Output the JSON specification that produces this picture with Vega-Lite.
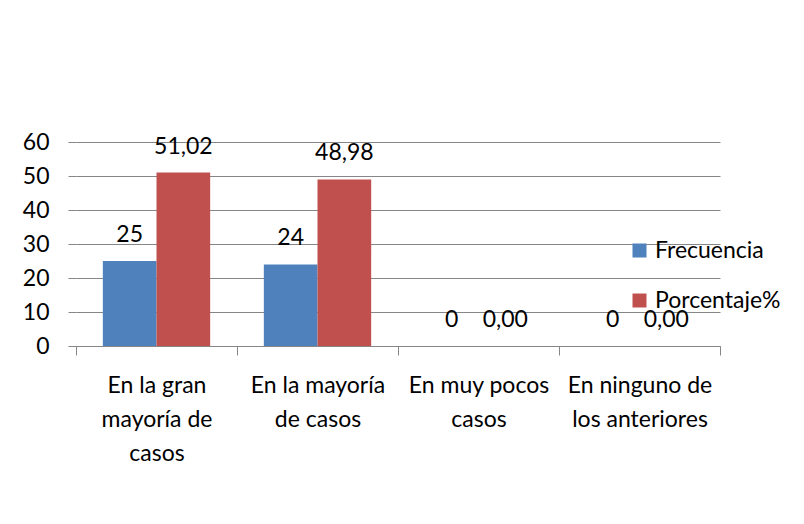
{
  "$schema": "https://vega.github.io/schema/vega-lite/v6.json",
  "width": 644,
  "height": 204,
  "autosize": "none",
  "padding": {"left": 76, "top": 142, "right": 84, "bottom": 178},
  "background": "white",
  "config": {
    "view": {"stroke": null},
    "font": "Lato",
    "axis": {"labelFont": "Lato", "labelColor": "#000000"},
    "legend": {"labelFont": "Lato"}
  },
  "data": {
    "values": [
      {"categoria": "En la gran mayoría de casos", "serie": "Frecuencia", "valor": 25},
      {"categoria": "En la gran mayoría de casos", "serie": "Porcentaje%", "valor": 51.02},
      {"categoria": "En la mayoría de casos", "serie": "Frecuencia", "valor": 24},
      {"categoria": "En la mayoría de casos", "serie": "Porcentaje%", "valor": 48.98},
      {"categoria": "En muy pocos casos", "serie": "Frecuencia", "valor": 0},
      {"categoria": "En muy pocos casos", "serie": "Porcentaje%", "valor": 0},
      {"categoria": "En ninguno de los anteriores", "serie": "Frecuencia", "valor": 0},
      {"categoria": "En ninguno de los anteriores", "serie": "Porcentaje%", "valor": 0}
    ]
  },
  "encoding": {
    "x": {
      "field": "categoria",
      "type": "nominal",
      "sort": ["En la gran mayoría de casos", "En la mayoría de casos", "En muy pocos casos", "En ninguno de los anteriores"],
      "scale": {"paddingInner": 0, "paddingOuter": 0},
      "axis": {
        "title": null,
        "labelAngle": 0,
        "labelFontSize": 23,
        "labelLineHeight": 34,
        "labelPadding": 19,
        "labelLimit": 0,
        "domainColor": "#868686",
        "domainWidth": 1,
        "tickColor": "#868686",
        "tickSize": 9,
        "tickBand": "extent",
        "grid": false,
        "labelExpr": "datum.value == 'En la gran mayoría de casos' ? ['En la gran', 'mayoría de', 'casos'] : datum.value == 'En la mayoría de casos' ? ['En la mayoría', 'de casos'] : datum.value == 'En muy pocos casos' ? ['En muy pocos', 'casos'] : datum.value == 'En ninguno de los anteriores' ? ['En ninguno de', 'los anteriores'] : ''"
      }
    },
    "xOffset": {
      "field": "serie",
      "type": "nominal",
      "sort": ["Frecuencia", "Porcentaje%"],
      "scale": {"paddingInner": 0, "paddingOuter": 0.5}
    },
    "y": {
      "field": "valor",
      "type": "quantitative",
      "scale": {"domain": [0, 60], "nice": false},
      "axis": {
        "title": null,
        "values": [0, 10, 20, 30, 40, 50, 60],
        "labelFontSize": 23,
        "labelPadding": 19,
        "domain": false,
        "tickColor": "#868686",
        "tickSize": 8,
        "gridColor": "#868686",
        "gridWidth": 1
      }
    }
  },
  "layer": [
    {
      "mark": {"type": "bar"},
      "encoding": {
        "color": {
          "field": "serie",
          "type": "nominal",
          "sort": ["Frecuencia", "Porcentaje%"],
          "scale": {"domain": ["Frecuencia", "Porcentaje%"], "range": ["#4F81BD", "#C0504D"]},
          "legend": {
            "title": null,
            "orient": "none",
            "legendX": 552,
            "legendY": 97,
            "symbolType": "square",
            "symbolSize": 196,
            "symbolStrokeWidth": 0,
            "labelFontSize": 23,
            "labelColor": "#000000",
            "labelOffset": 4,
            "rowPadding": 26
          }
        }
      }
    },
    {
      "transform": [
        {"calculate": "datum.serie == 'Frecuencia' ? format(datum.valor, 'd') : replace(format(datum.valor, '.2f'), '.', ',')", "as": "etiqueta"}
      ],
      "mark": {"type": "text", "baseline": "alphabetic", "dy": -19, "fontSize": 23, "color": "#000000", "font": "Lato"},
      "encoding": {"text": {"field": "etiqueta", "type": "nominal"}}
    }
  ]
}
